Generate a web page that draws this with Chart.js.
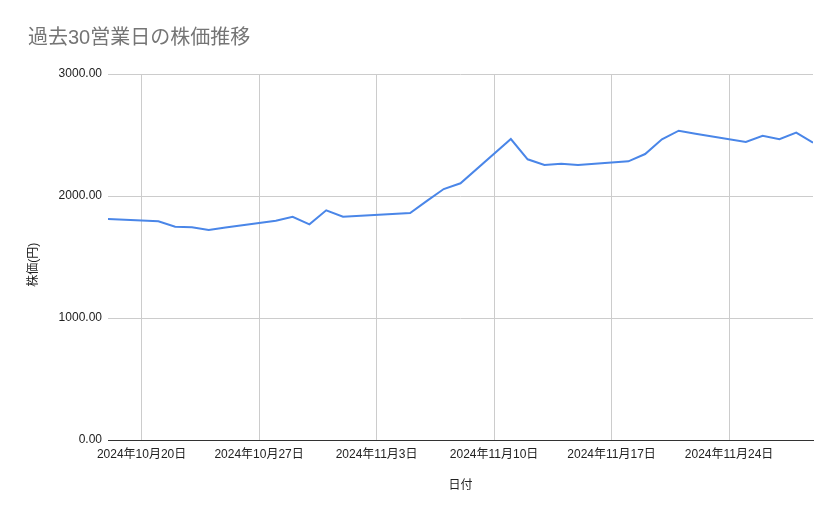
<!DOCTYPE html>
<html>
<head>
<meta charset="utf-8">
<script src="https://cdn.jsdelivr.net/npm/chart.js@4"></script>
<style>
  html, body { margin: 0; padding: 0; background: #fff; }
  #wrap { width: 839px; height: 519px; position: relative; }
</style>
</head>
<body>
<div id="wrap"><canvas id="chart"></canvas></div>
<script>
// 30 trading days (Nov 4 is a holiday in Japan)
const dates = [
  '2024-10-18', '2024-10-21', '2024-10-22', '2024-10-23', '2024-10-24', '2024-10-25',
  '2024-10-28', '2024-10-29', '2024-10-30', '2024-10-31', '2024-11-01',
  '2024-11-05', '2024-11-06', '2024-11-07', '2024-11-08',
  '2024-11-11', '2024-11-12', '2024-11-13', '2024-11-14', '2024-11-15',
  '2024-11-18', '2024-11-19', '2024-11-20', '2024-11-21', '2024-11-22',
  '2024-11-25', '2024-11-26', '2024-11-27', '2024-11-28', '2024-11-29'
];
const prices = [
  1811, 1793, 1748, 1743, 1721, 1742,
  1798, 1830, 1768, 1883, 1830,
  1861, 1960, 2057, 2104,
  2467, 2301, 2254, 2265, 2254,
  2284, 2344, 2465, 2535, 2510,
  2443, 2494, 2465, 2519, 2437
];
const tickDates = ['2024-10-20', '2024-10-27', '2024-11-03', '2024-11-10', '2024-11-17', '2024-11-24'];
const yMin = 0;
const yMax = 3000;
const yStep = 1000;

const DAY = 86400000;
function toDay(s) {
  const [y, m, d] = s.split('-').map(Number);
  return Date.UTC(y, m - 1, d) / DAY;
}
function fmtDay(v) {
  const dt = new Date(v * DAY);
  return dt.getUTCFullYear() + '年' + (dt.getUTCMonth() + 1) + '月' + dt.getUTCDate() + '日';
}

const points = dates.map((d, i) => ({ x: toDay(d), y: prices[i] }));

Chart.defaults.font.family = "'Liberation Sans', Arial, 'Noto Sans CJK JP', sans-serif";
Chart.defaults.color = '#222';

new Chart(document.getElementById('chart').getContext('2d'), {
  type: 'line',
  data: {
    datasets: [{
      label: '株価',
      data: points,
      borderColor: '#4a86e8',
      borderWidth: 2,
      pointRadius: 0,
      pointHoverRadius: 0,
      tension: 0,
      fill: false
    }]
  },
  options: {
    responsive: true,
    maintainAspectRatio: false,
    animation: false,
    layout: { padding: { left: 28, right: 26, top: 0, bottom: 0 } },
    scales: {
      x: {
        type: 'linear',
        min: toDay(dates[0]),
        max: toDay(dates[dates.length - 1]),
        afterBuildTicks: axis => {
          axis.ticks = tickDates.map(d => ({ value: toDay(d) }));
        },
        afterFit: axis => { axis.height = 79; },
        grid: { color: '#cccccc', drawTicks: false },
        border: { display: true, color: '#333333', width: 1 },
        ticks: {
          autoSkip: false,
          maxRotation: 0,
          padding: 7,
          color: '#222',
          font: { size: 12 },
          callback: v => fmtDay(v)
        },
        title: {
          display: true,
          text: '日付',
          color: '#222',
          font: { size: 12 },
          padding: { top: 0, bottom: 26 }
        }
      },
      y: {
        min: yMin,
        max: yMax,
        afterFit: axis => { axis.width = 108 - 28; },
        grid: { color: '#cccccc', drawTicks: false },
        border: { display: false },
        ticks: {
          stepSize: yStep,
          padding: 6,
          color: '#222',
          font: { size: 12 },
          callback: v => v.toFixed(2)
        },
        title: {
          display: true,
          // trailing space nudges the centred label down a little, as in the original
          text: '株価(円)\u3000 ',
          color: '#222',
          font: { size: 12, lineHeight: 1 },
          padding: { top: 0, bottom: 0 }
        }
      }
    },
    plugins: {
      legend: { display: false },
      tooltip: { enabled: false },
      title: {
        display: true,
        text: '過去30営業日の株価推移',
        align: 'start',
        color: '#757575',
        font: { size: 20, weight: 'normal', lineHeight: 1.2 },
        padding: { top: 26, bottom: 24 }
      }
    }
  }
});
</script>
</body>
</html>
